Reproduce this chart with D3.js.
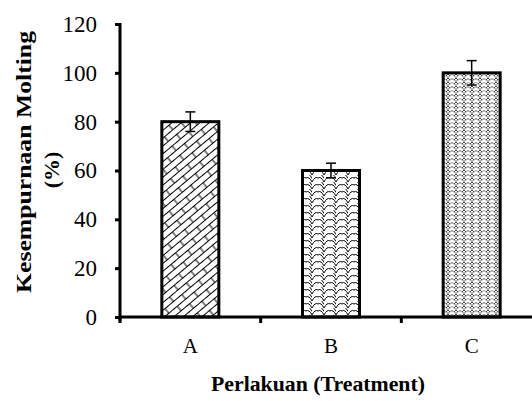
<!DOCTYPE html>
<html>
<head>
<meta charset="utf-8">
<script src="https://cdn.jsdelivr.net/npm/d3@7"></script>
<style>
  body { margin: 0; background: #fff; }
  text { font-family: "Liberation Serif", "DejaVu Serif", serif; }
</style>
</head>
<body>
<script>
// chart data
const categories = ["A", "B", "C"];
const values = [80, 60, 100];
const errors = [4, 3, 5];
const yTicks = [0, 20, 40, 60, 80, 100, 120];

const svg = d3.select("body").append("svg")
    .attr("width", 532)
    .attr("height", 401);

// plot area
const x0 = 120, x1 = 542, yTop = 24, yBottom = 317;

const xScale = d3.scaleBand().domain(categories).range([x0, x1]).paddingInner(0).paddingOuter(0);
const yScale = d3.scaleLinear().domain([0, 120]).range([yBottom, yTop]);

// fill patterns for the bars
const defs = svg.append("defs");

// A: diagonal bricks
const pA = defs.append("pattern")
    .attr("id", "patA")
    .attr("patternUnits", "userSpaceOnUse")
    .attr("width", 22).attr("height", 12)
    .attr("patternTransform", "rotate(-40)");
pA.append("rect").attr("width", 22).attr("height", 12).attr("fill", "#fff");
pA.append("path")
    .attr("d", "M0,0.5H22M0,6.5H22M5,0.5V6.5M16,6.5V12.5")
    .attr("stroke", "#000").attr("stroke-width", 1).attr("fill", "none");

// B: fish scales
const pB = defs.append("pattern")
    .attr("id", "patB")
    .attr("patternUnits", "userSpaceOnUse")
    .attr("width", 12).attr("height", 7);
pB.append("rect").attr("width", 12).attr("height", 7).attr("fill", "#fff");
pB.append("path")
    .attr("d", "M0,7 Q3,1 6,3 Q9,1 12,7 M-6,3.5 Q-3,-2.5 0,-0.5 M6,-0.5 Q9,-2.5 12,3.5")
    .attr("stroke", "#000").attr("stroke-width", 1).attr("fill", "none");

// C: dense weave
const pC = defs.append("pattern")
    .attr("id", "patC")
    .attr("patternUnits", "userSpaceOnUse")
    .attr("width", 8).attr("height", 8);
pC.append("rect").attr("width", 8).attr("height", 8).attr("fill", "#b0b0b0");
pC.append("path")
    .attr("d", "M0,4 L4,0 L8,4 M0,8 L4,4 L8,8")
    .attr("stroke", "#fff").attr("stroke-width", 1.6).attr("fill", "none");
pC.append("path")
    .attr("d", "M0,6 L2,8 M2,4 L0,2 M6,4 L8,2 M6,8 L8,6")
    .attr("stroke", "#333").attr("stroke-width", 0.9).attr("fill", "none");

const fills = ["url(#patA)", "url(#patB)", "url(#patC)"];
const data = categories.map((c, i) => ({ cat: c, value: values[i], err: errors[i], fill: fills[i] }));

const barW = 57;

// bars
svg.selectAll("rect.bar")
    .data(data)
    .enter().append("rect")
    .attr("class", "bar")
    .attr("x", d => xScale(d.cat) + xScale.bandwidth() / 2 - barW / 2)
    .attr("y", d => yScale(d.value))
    .attr("width", barW)
    .attr("height", d => yScale(0) - yScale(d.value))
    .attr("fill", d => d.fill)
    .attr("stroke", "#000")
    .attr("stroke-width", 3);

// error bars
const eb = svg.selectAll("g.err")
    .data(data)
    .enter().append("g")
    .attr("class", "err")
    .attr("stroke", "#000")
    .attr("stroke-width", 1.5);
eb.append("line")
    .attr("x1", d => xScale(d.cat) + xScale.bandwidth() / 2)
    .attr("x2", d => xScale(d.cat) + xScale.bandwidth() / 2)
    .attr("y1", d => yScale(d.value + d.err))
    .attr("y2", d => yScale(d.value - d.err));
eb.selectAll("line.cap")
    .data(d => [d.value + d.err, d.value - d.err].map(v => ({ v: v, d: d })))
    .enter().append("line")
    .attr("class", "cap")
    .attr("x1", e => xScale(e.d.cat) + xScale.bandwidth() / 2 - 5)
    .attr("x2", e => xScale(e.d.cat) + xScale.bandwidth() / 2 + 5)
    .attr("y1", e => yScale(e.v))
    .attr("y2", e => yScale(e.v));

// y axis
const yAxis = svg.append("g")
    .attr("transform", "translate(" + x0 + ",0)")
    .call(d3.axisLeft(yScale).tickValues(yTicks).tickSize(5).tickPadding(18));
yAxis.select(".domain").attr("stroke-width", 3).attr("d", "M0," + (yTop - 1) + "V" + (yBottom + 4));
yAxis.selectAll(".tick line").attr("stroke-width", 3);
yAxis.selectAll(".tick text").attr("font-size", 23).attr("fill", "#000");

// x axis
const xAxis = svg.append("g")
    .attr("transform", "translate(0," + yBottom + ")")
    .call(d3.axisBottom(xScale).tickSize(0).tickPadding(21));
xAxis.select(".domain").attr("stroke-width", 3).attr("d", "M" + (x0 - 1) + ",0H" + x1);
xAxis.selectAll(".tick text").attr("font-size", 21).attr("fill", "#000");
// tick marks at band boundaries
xAxis.selectAll("line.sep")
    .data(categories)
    .enter().append("line")
    .attr("class", "sep")
    .attr("x1", d => xScale(d)).attr("x2", d => xScale(d))
    .attr("y1", 0).attr("y2", 6)
    .attr("stroke", "#000").attr("stroke-width", 3);

// axis titles
svg.append("text")
    .attr("transform", "translate(31,162) rotate(-90)")
    .attr("text-anchor", "middle")
    .attr("font-size", 22)
    .attr("font-weight", "bold")
    .attr("textLength", 262)
    .attr("lengthAdjust", "spacingAndGlyphs")
    .text("Kesempurnaan Molting");
svg.append("text")
    .attr("transform", "translate(59,170) rotate(-90)")
    .attr("text-anchor", "middle")
    .attr("font-size", 22)
    .attr("font-weight", "bold")
    .text("(%)");
svg.append("text")
    .attr("x", 318)
    .attr("y", 391)
    .attr("text-anchor", "middle")
    .attr("font-size", 21)
    .attr("font-weight", "bold")
    .attr("textLength", 214)
    .attr("lengthAdjust", "spacingAndGlyphs")
    .text("Perlakuan (Treatment)");
</script>
</body>
</html>
